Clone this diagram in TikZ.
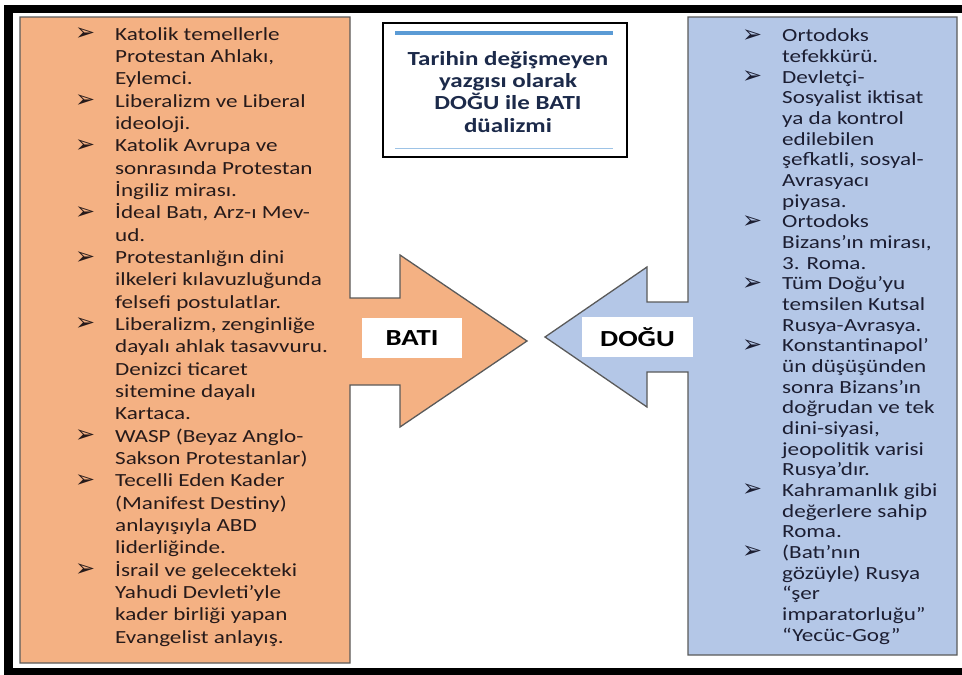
\documentclass[tikz,border=0pt]{standalone}
\usepackage{fontspec}
\setmainfont{Carlito}[FakeStretch=1.25]
\newfontfamily\bulletfont{DejaVu Sans}
\definecolor{westfill}{HTML}{F4B183}
\definecolor{eastfill}{HTML}{B4C7E7}
\definecolor{edgegray}{HTML}{5A5A5A}
\definecolor{westtext}{HTML}{261A1A}
\definecolor{easttext}{HTML}{1C1E32}
\definecolor{titletext}{HTML}{1C2A4A}
\definecolor{barblue}{HTML}{5B9BD5}
\definecolor{barlight}{HTML}{9DC3E6}
\newcommand\itemhead{\makebox[37pt][l]{\hspace*{-3pt}\raisebox{-0.5pt}{\bulletfont\fontsize{24}{24}\selectfont ➢}}}
\newcommand\itemcont{\makebox[37pt][l]{}}
\newcommand\firststrut{\rule{0pt}{16pt}}
\tikzset{
  callout/.style={draw=edgegray, line width=1.3pt, line join=miter},
  listtext/.style={anchor=north west, inner sep=0pt, align=left},
  tag/.style={fill=white, inner sep=0pt, font=\bfseries\fontsize{23}{24}\selectfont, text=black},
  titlebox/.style={draw=black, line width=2pt, minimum width=244pt, minimum height=134pt, inner sep=0pt},
  titlefont/.style={anchor=north, inner sep=0pt, align=center, text=titletext, font=\bfseries\fontsize{20}{22.3}\selectfont},
}
\begin{document}
\begin{tikzpicture}[x=1pt,y=-1pt]
\useasboundingbox (0,0) rectangle (962,675);
\begin{scope}
  \clip (0,0) rectangle (962,675);
  \draw[line width=8.5pt] (8.5,9) rectangle (990,672);
\end{scope}

% West callout
\draw[callout, fill=westfill] (20,17) -- (350,17) -- (350,298) -- (400,298) -- (400,255)
  -- (527,341) -- (400,427) -- (400,385) -- (350,385) -- (350,663) -- (20,663) -- cycle;
% East callout
\draw[callout, fill=eastfill] (957,17) -- (957,655) -- (688,655) -- (688,372) -- (647,372)
  -- (647,407) -- (545,337) -- (647,267) -- (647,302) -- (688,302) -- (688,17) -- cycle;

\node[tag, minimum width=100pt, minimum height=40pt] (bati) at (412,338) {BATI};
\node[tag, minimum width=111pt, minimum height=40pt] (dogu) at (637.5,337) {DOĞU};

% Title
\node[titlebox] (tbox) at (505,90) {};
\draw[barblue, line width=4pt] (395,32.5) -- (613,32.5);
\draw[barlight, line width=1.8pt] (395,148.5) -- (613,148.5);
\node[titlefont] (ttitle) at (508,49) {\firststrut Tarihin değişmeyen\\ yazgısı olarak\\ DOĞU ile BATI\\ düalizmi};

% West list
\node[listtext, text=westtext, font=\fontsize{18.5}{22.33}\selectfont] (westlist) at (78,24) {%
\firststrut\itemhead Katolik temellerle\\
\itemcont Protestan Ahlakı,\\
\itemcont Eylemci.\\
\itemhead Liberalizm ve Liberal\\
\itemcont ideoloji.\\
\itemhead Katolik Avrupa ve\\
\itemcont sonrasında Protestan\\
\itemcont İngiliz mirası.\\
\itemhead İdeal Batı, Arz-ı Mev-\\
\itemcont ud.\\
\itemhead Protestanlığın dini\\
\itemcont ilkeleri kılavuzluğunda\\
\itemcont felsefi postulatlar.\\
\itemhead Liberalizm, zenginliğe\\
\itemcont dayalı ahlak tasavvuru.\\
\itemcont Denizci ticaret\\
\itemcont sitemine dayalı\\
\itemcont Kartaca.\\
\itemhead WASP (Beyaz Anglo-\\
\itemcont Sakson Protestanlar)\\
\itemhead Tecelli Eden Kader\\
\itemcont (Manifest Destiny)\\
\itemcont anlayışıyla ABD\\
\itemcont liderliğinde.\\
\itemhead İsrail ve gelecekteki\\
\itemcont Yahudi Devleti’yle\\
\itemcont kader birliği yapan\\
\itemcont Evangelist anlayış.};

% East list
\node[listtext, text=easttext, font=\fontsize{18.5}{20.67}\selectfont] (eastlist) at (745,25.5) {%
\firststrut\itemhead Ortodoks\\
\itemcont tefekkürü.\\
\itemhead Devletçi-\\
\itemcont Sosyalist iktisat\\
\itemcont ya da kontrol\\
\itemcont edilebilen\\
\itemcont şefkatli, sosyal-\\
\itemcont Avrasyacı\\
\itemcont piyasa.\\
\itemhead Ortodoks\\
\itemcont Bizans’ın mirası,\\
\itemcont 3. Roma.\\
\itemhead Tüm Doğu’yu\\
\itemcont temsilen Kutsal\\
\itemcont Rusya-Avrasya.\\
\itemhead Konstantinapol’\\
\itemcont ün düşüşünden\\
\itemcont sonra Bizans’ın\\
\itemcont doğrudan ve tek\\
\itemcont dini-siyasi,\\
\itemcont jeopolitik varisi\\
\itemcont Rusya’dır.\\
\itemhead Kahramanlık gibi\\
\itemcont değerlere sahip\\
\itemcont Roma.\\
\itemhead (Batı’nın\\
\itemcont gözüyle) Rusya\\
\itemcont “şer\\
\itemcont imparatorluğu”\\
\itemcont “Yecüc-Gog”};
\end{tikzpicture}
\end{document}
